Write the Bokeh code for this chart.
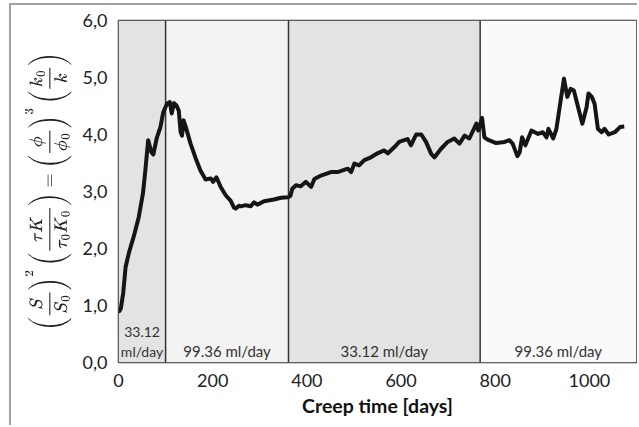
from bokeh.plotting import figure
from bokeh.models import Label, FixedTicker
from bokeh.embed import file_html
from bokeh.resources import INLINE

# Creep test: normalised permeability / tortuosity ratio versus time
days = [0, 2, 5, 10, 15, 22, 33, 43, 52, 57, 63, 70, 74, 81, 89, 95, 103, 109, 113, 118,
        123, 128, 132, 135, 138, 143, 153, 164, 174, 185, 196, 201, 208, 217, 228, 238,
        245, 249, 256, 260, 270, 281, 288, 295, 309, 330, 345, 360, 365, 369, 377, 387,
        398, 409, 416, 430, 451, 465, 487, 494, 501, 511, 522, 536, 550, 564, 572, 586,
        596, 607, 614, 621, 632, 643, 653, 664, 671, 685, 699, 713, 724, 735, 745, 760,
        764, 772, 777, 784, 802, 820, 830, 837, 847, 852, 857, 864, 877, 891, 901, 909,
        913, 923, 930, 939, 946, 953, 960, 967, 976, 985, 994, 998, 1005, 1011, 1018,
        1026, 1032, 1041, 1054, 1065, 1074]
ratio = [0.90, 0.90, 0.95, 1.22, 1.67, 1.92, 2.23, 2.55, 2.97, 3.37, 3.90, 3.69, 3.65, 3.93,
         4.13, 4.39, 4.54, 4.57, 4.37, 4.55, 4.51, 4.42, 4.04, 3.98, 4.25, 4.13, 3.84, 3.58,
         3.37, 3.21, 3.23, 3.17, 3.25, 3.08, 2.93, 2.84, 2.72, 2.70, 2.75, 2.74, 2.76, 2.74,
         2.81, 2.77, 2.83, 2.86, 2.89, 2.90, 2.92, 3.05, 3.11, 3.09, 3.17, 3.08, 3.22, 3.28,
         3.34, 3.34, 3.40, 3.34, 3.49, 3.46, 3.55, 3.60, 3.67, 3.72, 3.67, 3.78, 3.87, 3.90,
         3.92, 3.81, 4.00, 4.00, 3.87, 3.66, 3.60, 3.75, 3.87, 3.93, 3.84, 3.98, 3.93, 4.19,
         4.07, 4.29, 3.95, 3.91, 3.85, 3.87, 3.90, 3.84, 3.62, 3.69, 3.95, 3.81, 4.07, 4.01,
         4.04, 3.95, 4.10, 3.93, 4.10, 4.60, 4.98, 4.66, 4.80, 4.77, 4.48, 4.19, 4.48, 4.72,
         4.66, 4.54, 4.10, 4.04, 4.10, 4.00, 4.04, 4.13, 4.14]

# Injection-rate stages
stage_start = [0, 100, 361, 768]
stage_end = [100, 361, 768, 1100]
stage_fill = ["#e3e3e3", "#f3f3f3", "#e3e3e3", "#fafafa"]
stage_text = ["33.12\nml/day", "99.36 ml/day", "33.12 ml/day", "99.36 ml/day"]

y_ticks = [0, 1, 2, 3, 4, 5, 6]
y_tick_labels = ["0,0", "1,0", "2,0", "3,0", "4,0", "5,0", "6,0"]
x_ticks = [0, 200, 400, 600, 800, 1000]

FONT = "Lato"

p = figure(width=628, height=422, x_range=(0, 1100), y_range=(0, 6),
           output_backend="svg", toolbar_location=None,
           min_border_left=107, min_border_right=3, min_border_top=15, min_border_bottom=65,
           margin=(3, 0, 0, 9),
           styles={"border-top": "2px solid #a0a0a0", "border-left": "2px solid #a0a0a0"})

p.background_fill_color = "white"
p.border_fill_color = "white"
p.outline_line_color = "#333333"
p.outline_line_width = 1.5
p.grid.visible = False

p.quad(left=stage_start, right=stage_end, bottom=0, top=6, fill_color=stage_fill, line_color=None)
p.segment(x0=stage_start[1:], x1=stage_start[1:], y0=0, y1=6, line_color="#333333", line_width=1.5)

p.line(days, ratio, line_color="#151515", line_width=4, line_join="round")

# stage labels
for s, e, t in zip(stage_start, stage_end, stage_text):
    two_lines = "\n" in t
    p.add_layout(Label(x=(s + e) / 2, y=0.21, text=t, text_align="center",
                       text_baseline="bottom" if two_lines else "middle",
                       y_offset=-9 if two_lines else 0, text_line_height=1.15,
                       text_font=FONT, text_font_size="14px" if two_lines else "15px",
                       text_color="#333333"))

# axes
p.yaxis.ticker = FixedTicker(ticks=y_ticks)
p.yaxis.major_label_overrides = dict(zip(y_ticks, y_tick_labels))
p.xaxis.ticker = FixedTicker(ticks=x_ticks)
for ax in (p.xaxis, p.yaxis):
    ax.axis_line_color = None
    ax.major_tick_line_color = None
    ax.minor_tick_line_color = None
    ax.major_tick_out = 0
    ax.major_tick_in = 0
    ax.major_label_text_font = FONT
    ax.major_label_text_font_size = "18px"
    ax.major_label_text_color = "#222222"
p.yaxis.major_label_standoff = 11
p.xaxis.major_label_standoff = 11

p.yaxis.axis_label = (r"$$\left(\frac{S}{S_0}\right)^2\left(\frac{\tau K}{\tau_0 K_0}\right)"
                      r"=\left(\frac{\phi}{\phi_0}\right)^3\left(\frac{k_0}{k}\right)$$")
p.yaxis.axis_label_text_font_size = "15.5px"
p.yaxis.axis_label_text_color = "#222222"
p.yaxis.axis_label_standoff = 8

p.xaxis.axis_label = "Creep time [days]"
p.xaxis.axis_label_text_font = FONT
p.xaxis.axis_label_text_font_size = "19.5px"
p.xaxis.axis_label_text_font_style = "bold"
p.xaxis.axis_label_text_color = "#111111"
p.xaxis.axis_label_standoff = 4

open("out.html", "w").write(file_html(p, INLINE))
